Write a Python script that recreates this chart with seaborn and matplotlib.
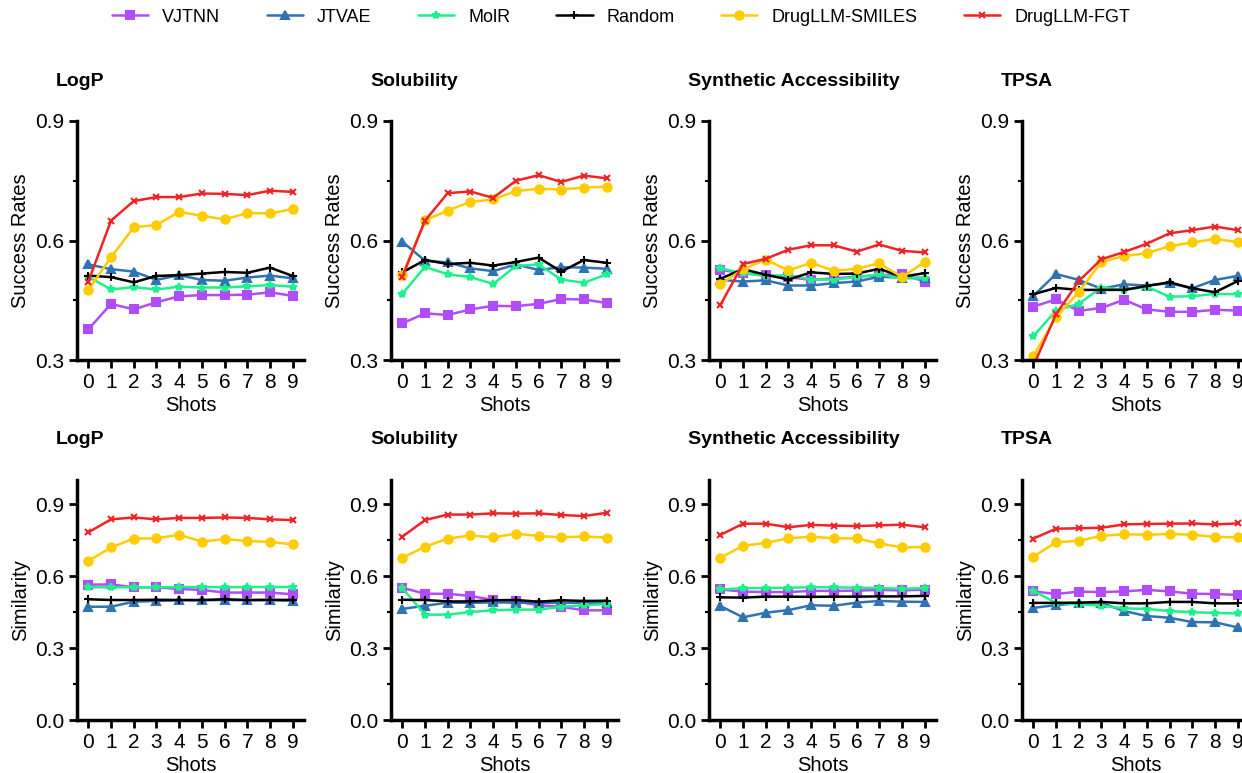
import numpy as np
import pandas as pd
import matplotlib
matplotlib.use("Agg")
import matplotlib.pyplot as plt
import seaborn as sns
from matplotlib.ticker import MultipleLocator

shots = list(range(10))
methods = ["VJTNN", "JTVAE", "MolR", "Random", "DrugLLM-SMILES", "DrugLLM-FGT"]
properties = ["LogP", "Solubility", "Synthetic Accessibility", "TPSA"]

# ---- Success rates (top row) ----
sr_logp_vjtnn = [0.377, 0.441, 0.427, 0.445, 0.460, 0.463, 0.463, 0.464, 0.470, 0.461]
sr_logp_jtvae = [0.540, 0.528, 0.522, 0.501, 0.513, 0.501, 0.499, 0.507, 0.512, 0.505]
sr_logp_molr = [0.509, 0.477, 0.483, 0.477, 0.484, 0.482, 0.482, 0.485, 0.488, 0.484]
sr_logp_random = [0.512, 0.508, 0.495, 0.511, 0.513, 0.517, 0.521, 0.519, 0.532, 0.511]
sr_logp_smiles = [0.476, 0.558, 0.633, 0.639, 0.672, 0.662, 0.653, 0.669, 0.668, 0.679]
sr_logp_fgt = [0.497, 0.650, 0.699, 0.709, 0.709, 0.718, 0.717, 0.714, 0.725, 0.722]

sr_sol_vjtnn = [0.392, 0.417, 0.413, 0.427, 0.436, 0.435, 0.441, 0.453, 0.452, 0.443]
sr_sol_jtvae = [0.597, 0.549, 0.545, 0.530, 0.523, 0.540, 0.526, 0.533, 0.532, 0.529]
sr_sol_molr = [0.466, 0.534, 0.515, 0.508, 0.491, 0.536, 0.540, 0.502, 0.494, 0.515]
sr_sol_random = [0.520, 0.551, 0.541, 0.544, 0.537, 0.546, 0.557, 0.522, 0.551, 0.544]
sr_sol_smiles = [0.513, 0.651, 0.675, 0.697, 0.703, 0.724, 0.730, 0.728, 0.733, 0.735]
sr_sol_fgt = [0.509, 0.650, 0.719, 0.723, 0.707, 0.750, 0.764, 0.747, 0.763, 0.756]

sr_sa_vjtnn = [0.526, 0.518, 0.513, 0.508, 0.501, 0.505, 0.509, 0.513, 0.515, 0.497]
sr_sa_jtvae = [0.501, 0.497, 0.500, 0.487, 0.487, 0.493, 0.497, 0.509, 0.507, 0.506]
sr_sa_molr = [0.530, 0.518, 0.511, 0.513, 0.502, 0.502, 0.508, 0.515, 0.505, 0.505]
sr_sa_random = [0.504, 0.528, 0.514, 0.502, 0.520, 0.516, 0.517, 0.529, 0.509, 0.518]
sr_sa_smiles = [0.490, 0.528, 0.552, 0.525, 0.544, 0.524, 0.529, 0.543, 0.508, 0.546]
sr_sa_fgt = [0.438, 0.541, 0.554, 0.577, 0.588, 0.588, 0.572, 0.590, 0.574, 0.570]

sr_tpsa_vjtnn = [0.434, 0.452, 0.423, 0.431, 0.451, 0.427, 0.421, 0.421, 0.426, 0.424]
sr_tpsa_jtvae = [0.461, 0.516, 0.501, 0.479, 0.490, 0.487, 0.493, 0.480, 0.501, 0.511]
sr_tpsa_molr = [0.360, 0.424, 0.441, 0.482, 0.476, 0.484, 0.459, 0.460, 0.466, 0.465]
sr_tpsa_random = [0.465, 0.481, 0.476, 0.476, 0.476, 0.486, 0.495, 0.480, 0.470, 0.498]
sr_tpsa_smiles = [0.310, 0.407, 0.471, 0.546, 0.561, 0.568, 0.586, 0.595, 0.604, 0.596]
sr_tpsa_fgt = [0.285, 0.415, 0.498, 0.553, 0.571, 0.592, 0.618, 0.626, 0.635, 0.626]

# ---- Similarity (bottom row) ----
sim_logp_vjtnn = [0.564, 0.565, 0.553, 0.553, 0.546, 0.542, 0.531, 0.531, 0.531, 0.524]
sim_logp_jtvae = [0.472, 0.472, 0.493, 0.496, 0.499, 0.499, 0.500, 0.499, 0.499, 0.497]
sim_logp_molr = [0.553, 0.553, 0.553, 0.553, 0.554, 0.554, 0.553, 0.554, 0.554, 0.554]
sim_logp_random = [0.503, 0.500, 0.500, 0.501, 0.500, 0.500, 0.503, 0.500, 0.501, 0.500]
sim_logp_smiles = [0.663, 0.719, 0.756, 0.757, 0.772, 0.743, 0.754, 0.746, 0.742, 0.732]
sim_logp_fgt = [0.782, 0.836, 0.844, 0.836, 0.842, 0.842, 0.844, 0.842, 0.836, 0.833]

sim_sol_vjtnn = [0.551, 0.526, 0.526, 0.517, 0.500, 0.494, 0.478, 0.472, 0.457, 0.457]
sim_sol_jtvae = [0.463, 0.476, 0.489, 0.488, 0.490, 0.489, 0.488, 0.489, 0.488, 0.488]
sim_sol_molr = [0.549, 0.439, 0.439, 0.450, 0.457, 0.460, 0.460, 0.472, 0.478, 0.483]
sim_sol_random = [0.501, 0.500, 0.494, 0.494, 0.499, 0.500, 0.493, 0.499, 0.496, 0.497]
sim_sol_smiles = [0.676, 0.722, 0.756, 0.769, 0.761, 0.776, 0.767, 0.761, 0.765, 0.760]
sim_sol_fgt = [0.764, 0.833, 0.856, 0.856, 0.861, 0.860, 0.861, 0.854, 0.850, 0.863]

sim_sa_vjtnn = [0.544, 0.535, 0.533, 0.533, 0.538, 0.538, 0.539, 0.542, 0.540, 0.543]
sim_sa_jtvae = [0.475, 0.428, 0.447, 0.458, 0.478, 0.476, 0.489, 0.496, 0.493, 0.492]
sim_sa_molr = [0.544, 0.549, 0.550, 0.551, 0.553, 0.553, 0.551, 0.550, 0.547, 0.549]
sim_sa_random = [0.511, 0.510, 0.514, 0.514, 0.513, 0.514, 0.514, 0.515, 0.515, 0.517]
sim_sa_smiles = [0.676, 0.726, 0.738, 0.757, 0.764, 0.757, 0.757, 0.736, 0.719, 0.721]
sim_sa_fgt = [0.771, 0.818, 0.818, 0.803, 0.813, 0.810, 0.808, 0.811, 0.814, 0.803]

sim_tpsa_vjtnn = [0.536, 0.525, 0.535, 0.533, 0.536, 0.542, 0.536, 0.526, 0.525, 0.521]
sim_tpsa_jtvae = [0.467, 0.479, 0.486, 0.488, 0.454, 0.433, 0.426, 0.408, 0.407, 0.386]
sim_tpsa_molr = [0.538, 0.488, 0.482, 0.476, 0.465, 0.463, 0.454, 0.449, 0.446, 0.444]
sim_tpsa_random = [0.488, 0.488, 0.489, 0.492, 0.486, 0.486, 0.492, 0.492, 0.486, 0.486]
sim_tpsa_smiles = [0.681, 0.740, 0.747, 0.767, 0.774, 0.772, 0.775, 0.772, 0.763, 0.761]
sim_tpsa_fgt = [0.756, 0.797, 0.799, 0.801, 0.815, 0.817, 0.818, 0.819, 0.815, 0.819]

success = {
    "LogP": [sr_logp_vjtnn, sr_logp_jtvae, sr_logp_molr, sr_logp_random, sr_logp_smiles, sr_logp_fgt],
    "Solubility": [sr_sol_vjtnn, sr_sol_jtvae, sr_sol_molr, sr_sol_random, sr_sol_smiles, sr_sol_fgt],
    "Synthetic Accessibility": [sr_sa_vjtnn, sr_sa_jtvae, sr_sa_molr, sr_sa_random, sr_sa_smiles, sr_sa_fgt],
    "TPSA": [sr_tpsa_vjtnn, sr_tpsa_jtvae, sr_tpsa_molr, sr_tpsa_random, sr_tpsa_smiles, sr_tpsa_fgt],
}
similarity = {
    "LogP": [sim_logp_vjtnn, sim_logp_jtvae, sim_logp_molr, sim_logp_random, sim_logp_smiles, sim_logp_fgt],
    "Solubility": [sim_sol_vjtnn, sim_sol_jtvae, sim_sol_molr, sim_sol_random, sim_sol_smiles, sim_sol_fgt],
    "Synthetic Accessibility": [sim_sa_vjtnn, sim_sa_jtvae, sim_sa_molr, sim_sa_random, sim_sa_smiles, sim_sa_fgt],
    "TPSA": [sim_tpsa_vjtnn, sim_tpsa_jtvae, sim_tpsa_molr, sim_tpsa_random, sim_tpsa_smiles, sim_tpsa_fgt],
}

palette = {"VJTNN": "#B14CFA", "JTVAE": "#2F73B3", "MolR": "#1EF08E",
           "Random": "#000000", "DrugLLM-SMILES": "#FFCC00", "DrugLLM-FGT": "#EE2426"}
markers = {"VJTNN": "s", "JTVAE": "^", "MolR": "*", "Random": "+",
           "DrugLLM-SMILES": "o", "DrugLLM-FGT": "x"}
msizes = {"VJTNN": 6, "JTVAE": 6, "MolR": 6, "Random": 6,
          "DrugLLM-SMILES": 6, "DrugLLM-FGT": 5}

sns.set_style("ticks")
plt.rcParams["font.family"] = ["Liberation Sans", "DejaVu Sans"]
for k in ["text.color", "axes.labelcolor", "xtick.color", "ytick.color", "axes.edgecolor"]:
    plt.rcParams[k] = "black"

W, H = 1242, 773
fig = plt.figure(figsize=(W / 100, H / 100), dpi=100)

lefts = [77, 391, 709, 1022]
ax_w = 227
rows = [(121, 360), (480, 720)]

handles = labels = None
for r, (top_px, bot_px) in enumerate(rows):
    data = success if r == 0 else similarity
    for c, prop in enumerate(properties):
        ax = fig.add_axes([lefts[c] / W, 1 - bot_px / H, ax_w / W, (bot_px - top_px) / H])
        for m, vals in zip(methods, data[prop]):
            df = pd.DataFrame({"Shots": shots, "Value": vals})
            sns.lineplot(data=df, x="Shots", y="Value", color=palette[m],
                         marker=markers[m], markersize=msizes[m],
                         markeredgewidth=1.5, markeredgecolor=palette[m],
                         linewidth=1.8, label=m, ax=ax)
        if handles is None:
            handles, labels = ax.get_legend_handles_labels()
        if ax.get_legend() is not None:
            ax.get_legend().remove()
        ax.set_xlim(-0.5, 9.5)
        ax.set_xticks(shots)
        if r == 0:
            ax.set_ylim(0.3, 0.9)
            ax.set_yticks([0.3, 0.6, 0.9])
            ax.yaxis.set_minor_locator(MultipleLocator(0.15))
            ax.set_ylabel("Success Rates", fontsize=14.5)
        else:
            ax.set_ylim(0.0, 1.0)
            ax.set_yticks([0.0, 0.3, 0.6, 0.9])
            ax.yaxis.set_minor_locator(MultipleLocator(0.15))
            ax.set_ylabel("Similarity", fontsize=14.5)
        ax.set_yticklabels([f"{t:.1f}" for t in ax.get_yticks()])
        ax.set_xlabel("Shots", fontsize=14.5, labelpad=3)
        ax.tick_params(axis="both", which="major", labelsize=15, width=2, length=6, pad=3,
                       color="black", labelcolor="black")
        ax.tick_params(axis="y", which="minor", width=1.5, length=3, color="black")
        for sp in ["top", "right"]:
            ax.spines[sp].set_visible(False)
        for sp in ["left", "bottom"]:
            ax.spines[sp].set_linewidth(2.5)
            ax.spines[sp].set_color("black")
        ax.text(-21 / ax_w, 1 + 40 / (bot_px - top_px), prop, transform=ax.transAxes,
                fontsize=14, fontweight="bold", ha="left", va="center", color="black")

fig.legend(handles, labels, loc="center", bbox_to_anchor=(0.5, 1 - 17 / H), ncol=6,
           frameon=False, fontsize=13, handlelength=2.0, columnspacing=2.55,
           handletextpad=0.8)

fig.savefig("out.png", dpi=100)
